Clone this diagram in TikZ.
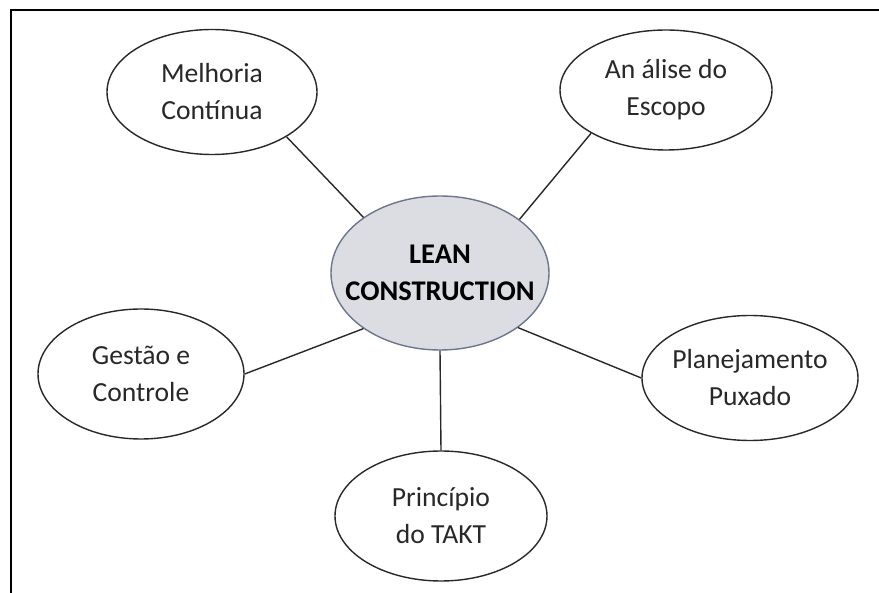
\documentclass[tikz,border=0pt]{standalone}
\usepackage{fontspec}
\setmainfont{Carlito}
\usetikzlibrary{shapes.geometric}
\definecolor{centerfill}{RGB}{220,221,226}
\definecolor{centerdraw}{RGB}{105,118,140}
\definecolor{ink}{RGB}{40,40,40}
\tikzset{
  topic/.style={ellipse, draw=ink, line width=1.4pt, fill=white, inner sep=0pt},
  hub/.style={ellipse, draw=centerdraw, line width=1.4pt, fill=centerfill, inner sep=0pt},
  topictext/.style={align=center, inner sep=0pt, font=\fontsize{27.6}{37}\selectfont, text=ink},
  hubtext/.style={align=center, inner sep=0pt, font=\fontsize{28.5}{37}\selectfont\bfseries, text=black},
  link/.style={draw=ink, line width=1.4pt}
}
\begin{document}
\begin{tikzpicture}[x=1pt,y=-1pt]
\useasboundingbox (0,0) rectangle (879,593);
\fill[white] (0,0) rectangle (879,593);
\draw[line width=2pt, black] (10.5,593) -- (10.5,10) -- (879,10);
\node[hub, minimum width=218pt, minimum height=154pt] (lean) at (440,273) {};
\node[hubtext] (leant) at (lean.center) {LEAN\\CONSTRUCTION};
\node[topic, minimum width=210pt, minimum height=125pt] (mel) at (212,92) {};
\node[topictext] (melt) at (mel.center) {Melhoria\\Contínua};
\node[topic, minimum width=212pt, minimum height=120pt] (ana) at (666,90) {};
\node[topictext] (anat) at (ana.center) {An álise do\\Escopo};
\node[topic, minimum width=206pt, minimum height=130pt] (ges) at (141,374) {};
\node[topictext] (gest) at (ges.center) {Gestão e\\Controle};
\node[topic, minimum width=216pt, minimum height=125pt] (pla) at (750,378) {};
\node[topictext] (plat) at (pla.center) {Planejamento\\Puxado};
\node[topic, minimum width=212pt, minimum height=130pt] (pri) at (441,516) {};
\node[topictext] (prit) at (pri.center) {Princípio\\do TAKT};
\draw[link] (mel.-31) -- (lean.144);
\draw[link] (ana.210) -- (lean.34);
\draw[link] (ges.0) -- (lean.216);
\draw[link] (pla.180) -- (lean.-35);
\draw[link] (pri.90) -- (lean.270);
\end{tikzpicture}
\end{document}
